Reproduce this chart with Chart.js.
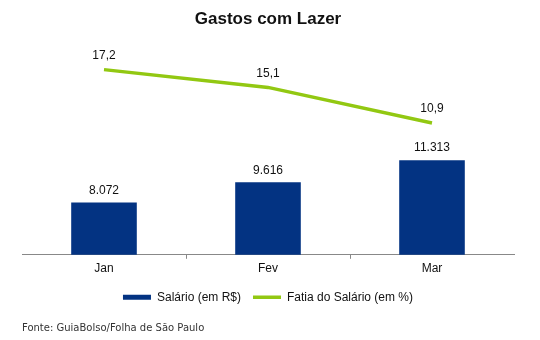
<!DOCTYPE html>
<html>
<head>
<meta charset="utf-8">
<script src="https://cdn.jsdelivr.net/npm/chart.js@4"></script>
<style>
  html, body { margin: 0; padding: 0; background: #fff; }
  #wrap { width: 540px; height: 340px; }
</style>
</head>
<body>
<div id="wrap"><canvas id="chart" width="540" height="340"></canvas></div>
<script>
// dados do gráfico
const categories = ['Jan', 'Fev', 'Mar'];
const salario = [8072, 9616, 11313];
const fatia = [17.2, 15.1, 10.9];

const seriesNames = ['Salário (em R$)', 'Fatia do Salário (em %)'];
const titleText = 'Gastos com Lazer';
const sourceText = 'Fonte: GuiaBolso/Folha de São Paulo';

const FONT = 'Arial, Liberation Sans, sans-serif';

// formata os rótulos no padrão brasileiro
function fmtSalario(v) {
    return String(v).replace(/\B(?=(\d{3})+(?!\d))/g, '.');
}
function fmtFatia(v) {
    return v.toFixed(1).replace('.', ',');
}

// desenha os valores em cima das barras e dos pontos
const valueLabels = {
    id: 'valueLabels',
    afterDatasetsDraw(chart) {
        const ctx = chart.ctx;
        ctx.save();
        ctx.font = '12px ' + FONT;
        ctx.fillStyle = '#111';
        ctx.textAlign = 'center';
        ctx.textBaseline = 'middle';
        chart.data.datasets.forEach((ds, i) => {
            const meta = chart.getDatasetMeta(i);
            meta.data.forEach((el, j) => {
                const isBar = ds.type === 'bar';
                const txt = isBar ? fmtSalario(ds.data[j]) : fmtFatia(ds.data[j]);
                ctx.fillText(txt, el.x, el.y - (isBar ? 12 : 14));
            });
        });
        ctx.restore();
    }
};

new Chart(document.getElementById('chart'), {
    data: {
        labels: categories,
        datasets: [{
            type: 'bar',
            label: seriesNames[0],
            data: salario,
            backgroundColor: '#033382',
            borderColor: '#033382',
            borderWidth: 0,
            categoryPercentage: 0.8,
            barPercentage: 0.5,
            yAxisID: 'y'
        }, {
            type: 'line',
            label: seriesNames[1],
            data: fatia,
            borderColor: '#92c812',
            backgroundColor: '#92c812',
            borderWidth: 3.5,
            pointRadius: 0,
            tension: 0,
            fill: false,
            yAxisID: 'y2'
        }]
    },
    options: {
        responsive: false,
        animation: false,
        devicePixelRatio: 1,
        layout: { padding: { left: 22, right: 26, top: 0, bottom: 0 } },
        scales: {
            x: {
                offset: true,
                grid: {
                    offset: true,
                    drawOnChartArea: false,
                    drawTicks: true,
                    tickLength: 4,
                    // só as marcas entre as categorias, nada nas pontas
                    color: c => (c.index === undefined || c.index === 0) ? 'rgba(0,0,0,0)' : '#888'
                },
                border: { color: '#888', width: 1 },
                ticks: { padding: 3, color: '#111', font: { family: FONT, size: 12 } }
            },
            y: { display: false, min: 4059, max: 20573 },
            y2: { display: false, min: -4.68, max: 20.77 }
        },
        plugins: {
            title: {
                display: true,
                text: titleText,
                color: '#111',
                font: { family: FONT, size: 17, weight: 'bold' },
                padding: { top: 9, bottom: 10 }
            },
            subtitle: {
                display: true,
                text: sourceText,
                position: 'bottom',
                align: 'start',
                color: '#333',
                font: { family: 'DejaVu Sans, Verdana, sans-serif', size: 10 },
                padding: { top: 8.8, bottom: 6 }
            },
            legend: {
                position: 'bottom',
                labels: {
                    usePointStyle: true,
                    pointStyleWidth: 28,
                    boxHeight: 5,
                    padding: 12,
                    color: '#111',
                    font: { family: FONT, size: 12 },
                    generateLabels(chart) {
                        const items = Chart.defaults.plugins.legend.labels.generateLabels(chart);
                        items.forEach(it => {
                            if (chart.data.datasets[it.datasetIndex].type === 'bar') {
                                it.pointStyle = 'rect';
                                it.lineWidth = 0;
                            } else {
                                it.pointStyle = 'line';
                                it.lineWidth = 3.5;
                            }
                        });
                        return items;
                    }
                }
            },
            tooltip: { enabled: false }
        }
    },
    plugins: [valueLabels]
});
</script>
</body>
</html>
